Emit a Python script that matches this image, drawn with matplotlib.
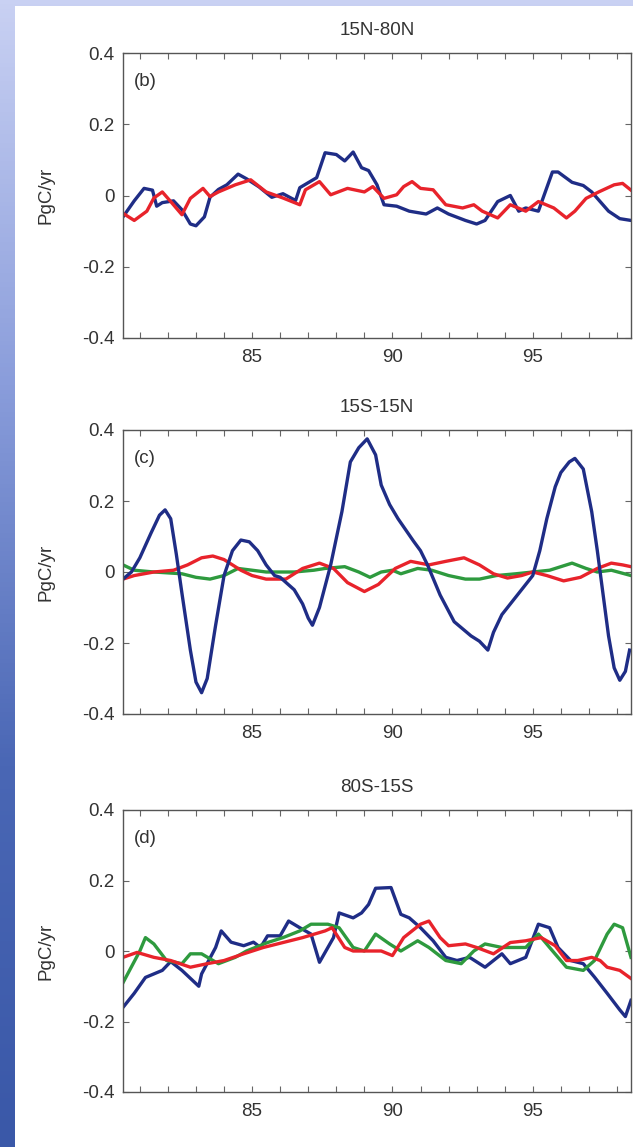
import numpy as np
import matplotlib
matplotlib.use("Agg")
import matplotlib.pyplot as plt
from matplotlib.patches import Rectangle
from matplotlib.colors import LinearSegmentedColormap

plt.rcParams["font.family"] = ["Liberation Sans", "DejaVu Sans"]

# ---- data (year = 19xx, flux in PgC/yr) ----
# (b) 15N-80N
b_blue_yr = [80.4, 80.8, 81.15, 81.45, 81.6, 81.8, 82.2, 82.5, 82.8, 83.0, 83.3, 83.5, 83.8, 84.1,
             84.5, 84.8, 85.25, 85.7, 86.1, 86.55, 86.7, 87.3, 87.6, 88.0, 88.3, 88.6, 88.9, 89.15,
             89.45, 89.7, 90.15, 90.6, 91.2, 91.6, 92.0, 92.6, 93.0, 93.3, 93.75, 94.2, 94.5, 94.75,
             95.2, 95.7, 95.9, 96.4, 96.8, 97.1, 97.7, 98.1, 98.5]
b_blue = [-0.06, -0.015, 0.02, 0.015, -0.03, -0.02, -0.015, -0.04, -0.08, -0.085, -0.06, -0.005, 0.017, 0.03,
          0.06, 0.047, 0.024, -0.005, 0.005, -0.014, 0.022, 0.05, 0.12, 0.115, 0.097, 0.122, 0.078, 0.07,
          0.03, -0.026, -0.03, -0.044, -0.052, -0.035, -0.052, -0.07, -0.08, -0.07, -0.017, 0.0, -0.044, -0.035,
          -0.044, 0.066, 0.066, 0.037, 0.028, 0.01, -0.044, -0.065, -0.07]
b_red_yr = [80.4, 80.8, 81.25, 81.5, 81.8, 82.1, 82.5, 82.8, 83.25, 83.5, 83.8, 84.4, 84.95, 85.5,
            86.1, 86.7, 86.9, 87.4, 87.8, 88.4, 89.0, 89.3, 89.7, 90.15, 90.4, 90.7, 91.0, 91.45,
            91.9, 92.5, 92.9, 93.2, 93.75, 94.2, 94.75, 95.2, 95.75, 96.2, 96.5, 96.9, 97.35, 97.9,
            98.2, 98.5]
b_red = [-0.05, -0.07, -0.044, -0.007, 0.01, -0.017, -0.054, -0.008, 0.02, -0.003, 0.01, 0.03, 0.044, 0.01,
         -0.007, -0.026, 0.016, 0.039, 0.002, 0.02, 0.01, 0.025, -0.008, 0.002, 0.025, 0.039, 0.02, 0.016,
         -0.026, -0.035, -0.026, -0.044, -0.063, -0.026, -0.044, -0.017, -0.035, -0.063, -0.044, -0.008, 0.01, 0.03,
         0.034, 0.015]

# (c) 15S-15N
c_blue_yr = [80.4, 80.7, 81.0, 81.4, 81.7, 81.9, 82.1, 82.3, 82.5, 82.8, 83.0, 83.2, 83.4, 83.7,
             84.0, 84.3, 84.6, 84.9, 85.2, 85.5, 85.8, 86.0, 86.5, 86.8, 87.0, 87.15, 87.4, 87.8,
             88.2, 88.5, 88.8, 89.1, 89.4, 89.6, 89.9, 90.2, 90.75, 91.0, 91.25, 91.7, 92.2, 92.5,
             92.8, 93.1, 93.4, 93.6, 93.9, 94.2, 94.6, 95.0, 95.25, 95.5, 95.8, 96.0, 96.3, 96.5,
             96.8, 97.1, 97.3, 97.5, 97.7, 97.9, 98.1, 98.3, 98.45]
c_blue = [-0.02, 0.0, 0.04, 0.11, 0.16, 0.175, 0.15, 0.05, -0.06, -0.22, -0.31, -0.34, -0.30, -0.15,
          -0.01, 0.06, 0.09, 0.085, 0.06, 0.02, -0.01, -0.015, -0.05, -0.09, -0.13, -0.15, -0.10, 0.02,
          0.17, 0.31, 0.35, 0.375, 0.33, 0.245, 0.19, 0.15, 0.087, 0.06, 0.02, -0.065, -0.14, -0.16,
          -0.18, -0.195, -0.22, -0.17, -0.12, -0.09, -0.05, -0.01, 0.06, 0.15, 0.24, 0.28, 0.31, 0.32,
          0.29, 0.17, 0.06, -0.06, -0.18, -0.27, -0.305, -0.28, -0.22]
c_red_yr = [80.4, 80.8, 81.5, 82.2, 82.7, 83.2, 83.6, 84.0, 84.6, 85.0, 85.5, 86.2, 86.8, 87.4,
            87.9, 88.4, 89.0, 89.5, 90.1, 90.65, 91.3, 91.9, 92.55, 93.1, 93.6, 94.1, 94.6, 95.0,
            95.5, 96.1, 96.7, 97.3, 97.8, 98.2, 98.5]
c_red = [-0.02, -0.01, 0.0, 0.005, 0.02, 0.04, 0.045, 0.035, 0.005, -0.01, -0.02, -0.02, 0.01, 0.025,
         0.01, -0.03, -0.055, -0.035, 0.01, 0.03, 0.02, 0.03, 0.04, 0.02, -0.005, -0.017, -0.01, 0.0,
         -0.01, -0.025, -0.015, 0.01, 0.025, 0.02, 0.015]
c_green_yr = [80.4, 80.8, 81.5, 82.5, 83.0, 83.5, 84.0, 84.5, 85.0, 85.5, 86.5, 87.2, 87.6, 88.3,
              88.8, 89.2, 89.6, 90.0, 90.3, 90.9, 91.4, 92.0, 92.6, 93.1, 93.7, 94.4, 95.0, 95.6,
              96.0, 96.4, 96.9, 97.3, 97.8, 98.5]
c_green = [0.02, 0.005, 0.0, -0.005, -0.015, -0.02, -0.01, 0.01, 0.005, 0.0, 0.0, 0.005, 0.01, 0.015,
           0.0, -0.015, 0.0, 0.005, -0.005, 0.01, 0.005, -0.01, -0.02, -0.02, -0.01, -0.005, 0.0, 0.005,
           0.015, 0.025, 0.01, 0.0, 0.005, -0.01]

# (d) 80S-15S
d_blue_yr = [80.4, 80.8, 81.2, 81.8, 82.1, 82.5, 83.1, 83.2, 83.7, 83.9, 84.25, 84.7, 85.05, 85.3,
             85.55, 86.0, 86.3, 86.7, 87.1, 87.4, 87.7, 87.9, 88.1, 88.6, 88.9, 89.15, 89.4, 89.95,
             90.3, 90.6, 91.0, 91.45, 91.9, 92.3, 92.75, 93.3, 93.9, 94.2, 94.75, 95.2, 95.6, 95.9,
             96.35, 96.8, 97.2, 97.65, 98.1, 98.3, 98.5]
d_blue = [-0.16, -0.12, -0.075, -0.055, -0.03, -0.055, -0.1, -0.065, 0.01, 0.057, 0.025, 0.015, 0.025, 0.01,
          0.043, 0.043, 0.085, 0.066, 0.048, -0.032, 0.01, 0.038, 0.108, 0.094, 0.108, 0.132, 0.178, 0.18,
          0.104, 0.094, 0.066, 0.029, -0.018, -0.027, -0.018, -0.046, -0.008, -0.036, -0.018, 0.076, 0.066, 0.01,
          -0.027, -0.036, -0.074, -0.12, -0.167, -0.186, -0.14]
d_green_yr = [80.4, 81.0, 81.2, 81.5, 81.95, 82.5, 82.8, 83.2, 83.8, 84.4, 84.8, 85.55, 86.1, 86.7,
              87.1, 87.7, 88.1, 88.6, 89.0, 89.4, 89.9, 90.3, 90.9, 91.3, 91.9, 92.45, 92.9, 93.3,
              93.9, 94.75, 95.2, 95.6, 96.2, 96.8, 97.2, 97.65, 97.9, 98.2, 98.5]
d_green = [-0.09, 0.0, 0.038, 0.02, -0.027, -0.036, -0.008, -0.008, -0.036, -0.018, 0.0, 0.024, 0.038, 0.057,
           0.076, 0.076, 0.066, 0.01, 0.0, 0.048, 0.02, 0.0, 0.029, 0.01, -0.027, -0.036, 0.0, 0.02,
           0.01, 0.01, 0.048, 0.01, -0.046, -0.055, -0.027, 0.048, 0.076, 0.066, -0.018]
d_red_yr = [80.4, 80.9, 81.5, 82.1, 82.8, 83.4, 84.0, 84.7, 85.4, 86.1, 86.8, 87.6, 87.85, 88.3,
            88.6, 89.0, 89.6, 90.0, 90.4, 91.0, 91.3, 91.7, 92.0, 92.6, 93.0, 93.6, 94.2, 94.75,
            95.3, 95.8, 96.2, 96.6, 97.1, 97.4, 97.65, 98.1, 98.5]
d_red = [-0.018, -0.004, -0.018, -0.027, -0.046, -0.036, -0.027, -0.008, 0.01, 0.024, 0.038, 0.057, 0.066, 0.01,
         0.0, 0.0, 0.0, -0.013, 0.038, 0.076, 0.085, 0.038, 0.015, 0.02, 0.01, -0.008, 0.024, 0.029,
         0.038, 0.015, -0.027, -0.027, -0.018, -0.027, -0.046, -0.055, -0.078]

titles = ["15N-80N", "15S-15N", "80S-15S"]
tags = ["(b)", "(c)", "(d)"]
yticks = [-0.4, -0.2, 0, 0.2, 0.4]
ytick_labels = ["-0.4", "-0.2", "0", "0.2", "0.4"]
xtick_major = [85, 90, 95]
xtick_minor = list(range(81, 99))

BLUE = "#1f2d86"
RED = "#e8232b"
GREEN = "#2e9a3e"
TXT = "#333333"
FS = 13.5

panels = [
    [(b_blue_yr, b_blue, BLUE), (b_red_yr, b_red, RED)],
    [(c_green_yr, c_green, GREEN), (c_red_yr, c_red, RED), (c_blue_yr, c_blue, BLUE)],
    [(d_blue_yr, d_blue, BLUE), (d_green_yr, d_green, GREEN), (d_red_yr, d_red, RED)],
]

fig = plt.figure(figsize=(6.33, 11.47), dpi=100)
fig.patch.set_facecolor("white")

# blue slide background: gradient strip on the left and top
bg = fig.add_axes([0, 0, 1, 1], zorder=-10)
grad = np.linspace(0, 1, 256).reshape(-1, 1)
cmap = LinearSegmentedColormap.from_list("slide", ["#c9d1f3", "#8a9ddb", "#4a67b5", "#3a58a8"])
bg.imshow(grad, aspect="auto", cmap=cmap, extent=[0, 1, 0, 1], origin="upper")
bg.add_patch(Rectangle((15 / 633, 0), 1, 1 - 6 / 1147, facecolor="white", edgecolor="none"))
bg.set_xlim(0, 1)
bg.set_ylim(0, 1)
bg.axis("off")

positions = [
    [123 / 633, 1 - 338 / 1147, 508 / 633, 285 / 1147],
    [123 / 633, 1 - 714 / 1147, 508 / 633, 284 / 1147],
    [123 / 633, 1 - 1092 / 1147, 508 / 633, 282 / 1147],
]

for pos, series, title, tag in zip(positions, panels, titles, tags):
    ax = fig.add_axes(pos)
    for xs, ys, col in series:
        ax.plot(xs, ys, color=col, lw=2.4, solid_joinstyle="round")
    ax.set_xlim(80.4, 98.5)
    ax.set_ylim(-0.4, 0.4)
    ax.set_yticks(yticks)
    ax.set_yticklabels(ytick_labels)
    ax.set_xticks(xtick_major)
    ax.set_xticklabels([str(v) for v in xtick_major])
    ax.set_xticks(xtick_minor, minor=True)
    ax.tick_params(which="both", direction="in", top=True, right=True, length=4,
                   width=0.8, color="#666666", labelsize=FS, labelcolor=TXT)
    ax.tick_params(axis="x", which="major", pad=8)
    ax.tick_params(axis="y", which="major", pad=6)
    for sp in ax.spines.values():
        sp.set_color("#555555")
        sp.set_linewidth(1.0)
    ax.set_title(title, fontsize=FS, color=TXT, pad=13)
    ax.set_ylabel("PgC/yr", fontsize=FS, color=TXT, labelpad=20)
    ax.text(0.022, 0.9, tag, transform=ax.transAxes, fontsize=FS, color=TXT, va="center")

fig.savefig("out.png", dpi=100)
